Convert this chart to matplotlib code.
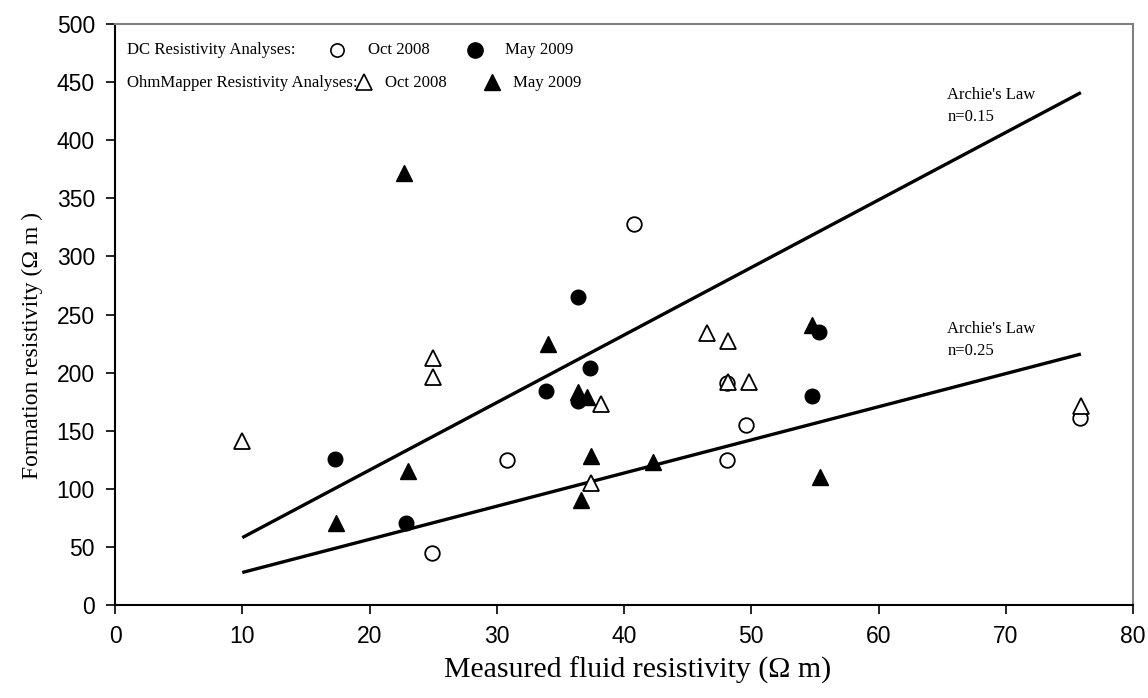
import matplotlib
matplotlib.use('Agg')
import matplotlib.pyplot as plt

# Resistivity survey data: (fluid resistivity, formation resistivity), Ohm m
dc_oct_x = [40.8, 30.8, 24.9, 48.1, 49.6, 48.1, 75.8]
dc_oct_y = [328, 125, 45, 191, 155, 125, 161]

dc_may_x = [17.3, 22.9, 36.4, 37.3, 33.9, 36.4, 55.3, 54.8]
dc_may_y = [126, 71, 265, 204, 184, 176, 235, 180]

ohm_oct_x = [10.0, 25.0, 25.0, 38.2, 37.4, 46.5, 48.2, 48.2, 49.8, 75.9]
ohm_oct_y = [141, 213, 196, 173, 105, 234, 227, 192, 192, 171]

ohm_may_x = [22.7, 34.0, 36.4, 37.1, 17.4, 23.0, 37.4, 36.6, 42.3, 54.8, 55.4]
ohm_may_y = [372, 225, 183, 179, 71, 115, 128, 90, 123, 241, 110]

# Archie's law reference lines
archie_x = [10.0, 75.9]
archie_015_y = [58, 441]
archie_025_y = [28, 216]

serif = 'Liberation Serif'
sans = 'Liberation Sans'

fig = plt.figure(figsize=(11.48, 6.98), dpi=100)
ax = fig.add_axes([0.1002, 0.1332, 0.8868, 0.8324])

ax.plot(archie_x, archie_015_y, color='black', lw=2.4, solid_capstyle='butt')
ax.plot(archie_x, archie_025_y, color='black', lw=2.4, solid_capstyle='butt')

ax.plot(dc_oct_x, dc_oct_y, 'o', ms=10.5, mfc='white', mec='black', mew=1.3, ls='none')
ax.plot(dc_may_x, dc_may_y, 'o', ms=10.5, mfc='black', mec='black', ls='none')
ax.plot(ohm_oct_x, ohm_oct_y, '^', ms=11, mfc='white', mec='black', mew=1.3, ls='none')
ax.plot(ohm_may_x, ohm_may_y, '^', ms=11, mfc='black', mec='black', ls='none')

ax.text(65.4, 446, "Archie's Law\nn=0.15", fontsize=12, family=serif, va='top', linespacing=1.5)
ax.text(65.4, 244, "Archie's Law\nn=0.25", fontsize=12, family=serif, va='top', linespacing=1.5)

# hand-built legend in axes coordinates
leg = dict(transform=ax.transAxes, clip_on=False, ls='none')
tx = dict(transform=ax.transAxes, fontsize=12.1, family=serif, va='center')
r1, r2 = 0.956, 0.899
ax.text(0.0118, r1, 'DC Resistivity Analyses:', **tx)
ax.text(0.0118, r2, 'OhmMapper Resistivity Analyses:', **tx)
ax.plot([0.218], [r1], 'o', ms=9.5, mfc='white', mec='black', mew=1.2, **leg)
ax.plot([0.3536], [r1], 'o', ms=11, mfc='black', mec='black', **leg)
ax.plot([0.2445], [r2 + 0.002], '^', ms=11, mfc='white', mec='black', mew=1.2, **leg)
ax.plot([0.3703], [r2 + 0.002], '^', ms=11, mfc='black', mec='black', **leg)
ax.text(0.2485, r1, 'Oct 2008', **tx)
ax.text(0.383, r1, 'May 2009', **tx)
ax.text(0.2653, r2, 'Oct 2008', **tx)
ax.text(0.391, r2, 'May 2009', **tx)

ax.set_xlim(0, 80)
ax.set_ylim(0, 500)
ax.set_xticks(range(0, 81, 10))
ax.set_yticks(range(0, 501, 50))
ax.tick_params(direction='out', length=6.5, width=1.2, labelsize=16.5, pad=8)
for lab in ax.get_xticklabels() + ax.get_yticklabels():
    lab.set_family(sans)

for side in ['left', 'bottom']:
    ax.spines[side].set_linewidth(1.5)
    ax.spines[side].set_color('black')
for side in ['top', 'right']:
    ax.spines[side].set_linewidth(1.5)
    ax.spines[side].set_color('#808080')

ax.set_xlabel('Measured fluid resistivity (\u03a9 m)', family=serif, fontsize=21.5)
ax.xaxis.set_label_coords(0.513, -0.089)
ax.set_ylabel('Formation resistivity (\u03a9 m )', family=serif, fontsize=17)
ax.yaxis.set_label_coords(-0.071, 0.447)

fig.savefig('out.png', dpi=100)
